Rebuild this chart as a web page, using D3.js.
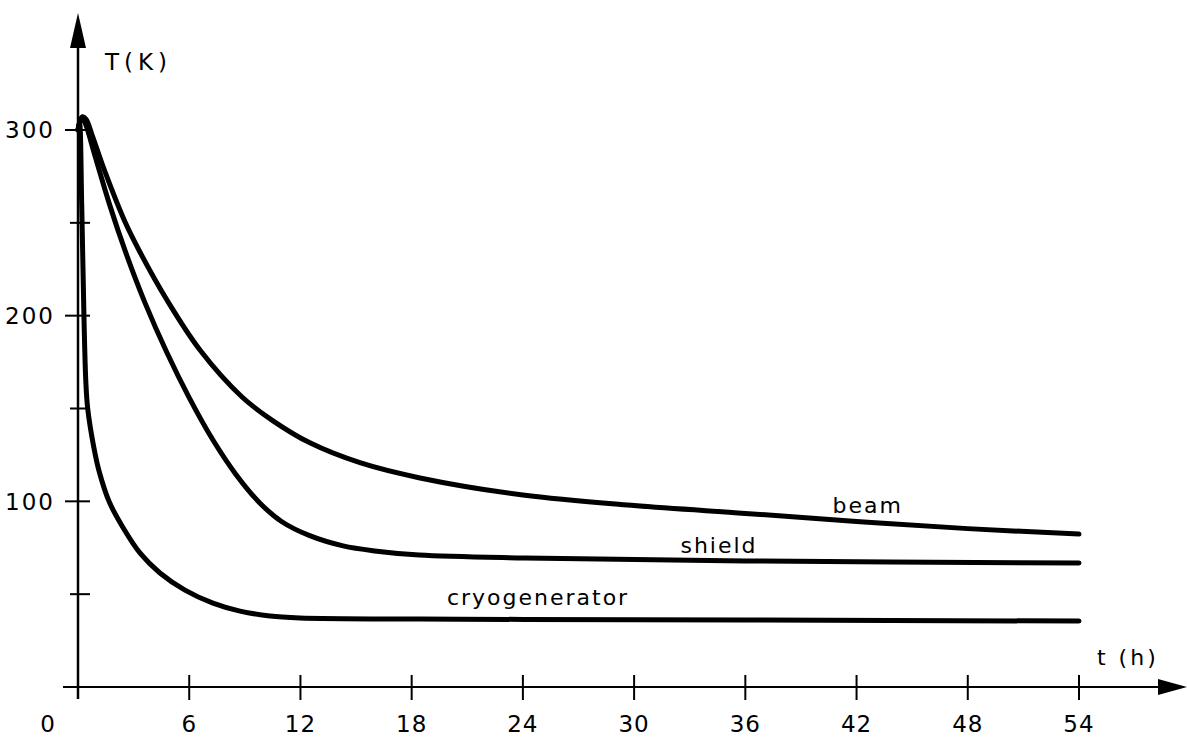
<!DOCTYPE html>
<html>
<head>
<meta charset="utf-8">
<script src="https://cdn.jsdelivr.net/npm/d3@7"></script>
<style>
  html, body { margin: 0; padding: 0; background: #fff; }
  svg text { font-family: "DejaVu Sans", sans-serif; fill: #000; }
</style>
</head>
<body>
<div id="chart"></div>
<script>
// time in hours, temperature in K
var beamHours = [0, 0.22, 0.43, 0.76, 1.46, 2.54, 3.34, 4.8, 6.58, 8.85, 10.5, 12.51, 15.21, 18.45, 24, 30, 36, 42, 48, 54];
var beamTemp  = [300, 307, 305.9, 297.3, 277.4, 250.4, 234.3, 208.4, 181.5, 156.2, 143.5, 131.5, 120.8, 112.6, 103.4, 97.7, 93.5, 89.2, 85.3, 82.4];

var shieldHours = [0, 0.22, 0.43, 0.92, 1.73, 2.54, 3.61, 4.8, 5.99, 7.28, 8.52, 9.82, 11.0, 12.5, 14.3, 16.0, 18.4, 24.1, 36.0, 54];
var shieldTemp  = [300, 307, 302.6, 286, 259, 235, 207, 180, 156, 133, 114.5, 99, 89, 81.5, 76, 73.3, 71.1, 69.5, 67.9, 66.8];

var cryoHours = [0, 0.08, 0.2, 0.32, 0.42, 0.52, 0.85, 1.15, 1.69, 2.41, 3.34, 4.42, 5.77, 7.28, 8.74, 10.36, 11.97, 18.45, 24.06, 36.0, 54];
var cryoTemp  = [300, 304.3, 260, 200, 165, 150.3, 129.3, 115.8, 99.6, 86.2, 72.2, 61.4, 52.2, 45.2, 40.9, 38.2, 37.2, 36.6, 36.4, 36.1, 35.5];

var xTicks = [6, 12, 18, 24, 30, 36, 42, 48, 54];
var yLabelTicks = [100, 200, 300];
var yMinorTicks = [50, 150, 250];

// curve labels: [text, hour, temperature at baseline]
var curveLabels = [
    ["beam", 40.7, 93.7],
    ["shield", 32.5, 72],
    ["cryogenerator", 19.9, 44]
];

var width = 1187, height = 738;

var x = d3.scaleLinear().domain([0, 54]).range([78, 1079]);
var y = d3.scaleLinear().domain([0, 300]).range([687, 130]);

var svg = d3.select("#chart")
    .append("svg")
    .attr("width", width)
    .attr("height", height);

//Axes lines
svg.append("line")
    .attr("x1", 63).attr("x2", 1160)
    .attr("y1", y(0)).attr("y2", y(0))
    .attr("stroke", "#000").attr("stroke-width", 2);
svg.append("line")
    .attr("x1", x(0)).attr("x2", x(0))
    .attr("y1", 699).attr("y2", 46)
    .attr("stroke", "#000").attr("stroke-width", 2.5);

//Arrow heads
svg.append("path")
    .attr("d", "M1158," + (y(0) - 8) + " L1187," + y(0) + " L1158," + (y(0) + 8) + " Z")
    .attr("fill", "#000");
svg.append("path")
    .attr("d", "M" + (x(0) - 8) + ",48 L" + x(0) + ",13 L" + (x(0) + 8) + ",48 Z")
    .attr("fill", "#000");

//X ticks cross the axis
svg.selectAll(".xtick")
    .data(xTicks)
    .enter().append("line")
    .attr("class", "xtick")
    .attr("x1", function(d){ return x(d); })
    .attr("x2", function(d){ return x(d); })
    .attr("y1", y(0) - 12)
    .attr("y2", y(0) + 13)
    .attr("stroke", "#000").attr("stroke-width", 2);

svg.selectAll(".xlabel")
    .data([0].concat(xTicks))
    .enter().append("text")
    .attr("class", "xlabel")
    .attr("x", function(d){ return d === 0 ? 48 : x(d); })
    .attr("y", 732)
    .attr("text-anchor", "middle")
    .style("font-size", "23px")
    .style("letter-spacing", "1px")
    .text(function(d){ return d; });

//Y ticks
svg.selectAll(".ytick")
    .data(yLabelTicks.concat(yMinorTicks))
    .enter().append("line")
    .attr("class", "ytick")
    .attr("x1", function(d){ return yLabelTicks.indexOf(d) >= 0 ? x(0) - 13 : x(0) - 8; })
    .attr("x2", x(0) + 12)
    .attr("y1", function(d){ return y(d); })
    .attr("y2", function(d){ return y(d); })
    .attr("stroke", "#000").attr("stroke-width", 2);

svg.selectAll(".ylabel")
    .data(yLabelTicks)
    .enter().append("text")
    .attr("class", "ylabel")
    .attr("x", 55)
    .attr("y", function(d){ return y(d); })
    .attr("dy", "0.36em")
    .attr("text-anchor", "end")
    .style("font-size", "23px")
    .style("letter-spacing", "2px")
    .text(function(d){ return d; });

//Axis titles
svg.append("text")
    .attr("x", 105).attr("y", 70)
    .style("font-size", "23px")
    .style("letter-spacing", "5px")
    .text("T(K)");
svg.append("text")
    .attr("x", 1097).attr("y", 665)
    .style("font-size", "22px")
    .style("letter-spacing", "3px")
    .text("t (h)");

//Curves
var line = d3.line()
    .x(function(d){ return x(d[0]); })
    .y(function(d){ return y(d[1]); })
    .curve(d3.curveCatmullRom.alpha(0.5));

var series = [
    d3.zip(beamHours, beamTemp),
    d3.zip(shieldHours, shieldTemp),
    d3.zip(cryoHours, cryoTemp)
];

svg.selectAll(".curve")
    .data(series)
    .enter().append("path")
    .attr("class", "curve")
    .attr("d", line)
    .attr("fill", "none")
    .attr("stroke", "#000")
    .attr("stroke-width", 5)
    .attr("stroke-linejoin", "round")
    .attr("stroke-linecap", "round");

svg.selectAll(".curveLabel")
    .data(curveLabels)
    .enter().append("text")
    .attr("class", "curveLabel")
    .attr("x", function(d){ return x(d[1]); })
    .attr("y", function(d){ return y(d[2]); })
    .style("font-size", "22px")
    .style("letter-spacing", "2px")
    .text(function(d){ return d[0]; });
</script>
</body>
</html>
